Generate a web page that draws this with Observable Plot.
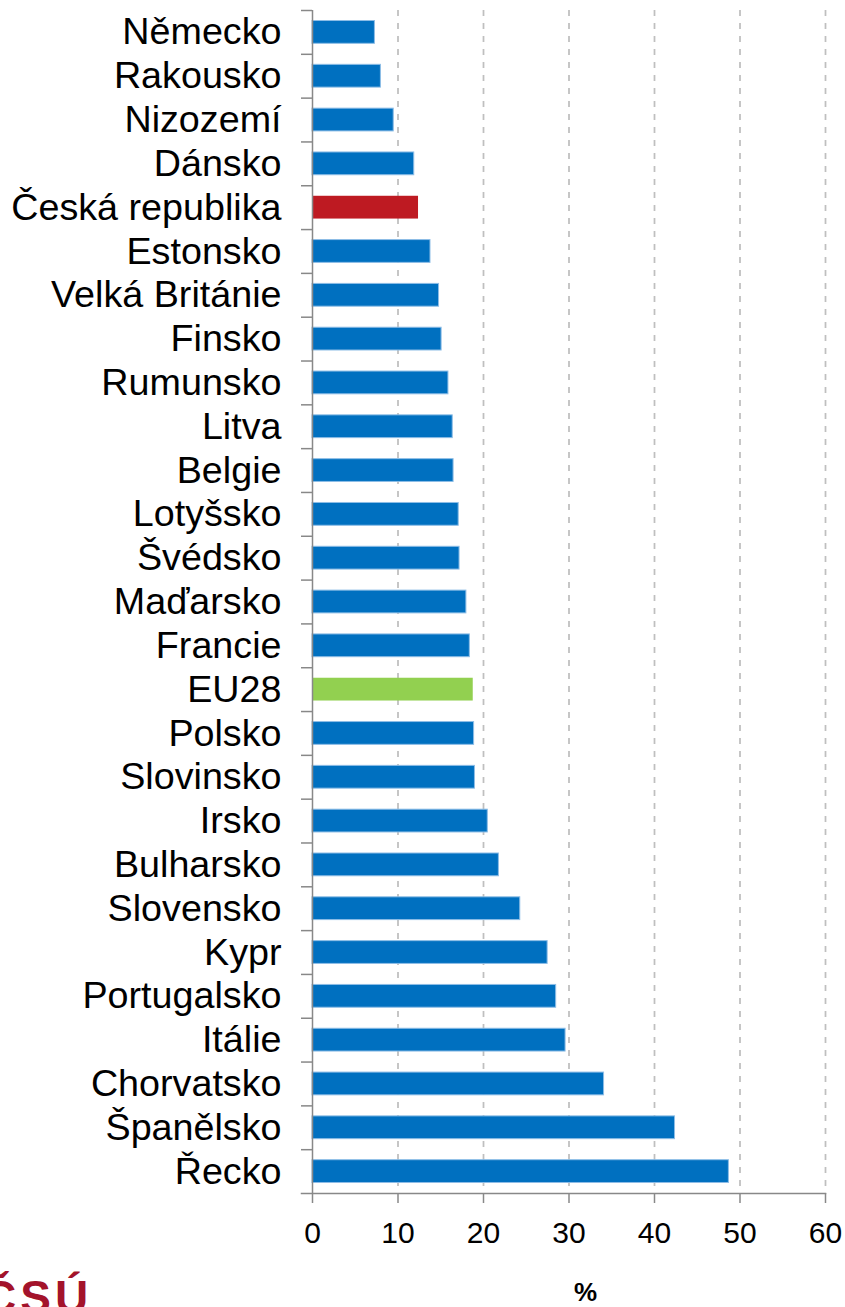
<!DOCTYPE html>
<html>
<head>
<meta charset="utf-8">
<script src="https://cdn.jsdelivr.net/npm/d3@7"></script>
<script src="https://cdn.jsdelivr.net/npm/@observablehq/plot@0.6"></script>
<style>
  html, body { margin: 0; padding: 0; background: #fff; overflow: hidden; }
  #wrap { position: relative; width: 845px; height: 1307px; overflow: hidden; font-family: "Liberation Sans", Arial, sans-serif; }
  #pct { position: absolute; left: 574px; top: 1279px; font-size: 26px; font-weight: bold; color: #000; line-height: 1; }
  #logo { position: absolute; left: -17px; top: 1274px; font-size: 46px; font-weight: bold; color: #A3132B; letter-spacing: 4px; line-height: 1; white-space: nowrap; }
</style>
</head>
<body>
<div id="wrap"></div>
<script>
const countries = [
  "Německo", "Rakousko", "Nizozemí", "Dánsko", "Česká republika", "Estonsko",
  "Velká Británie", "Finsko", "Rumunsko", "Litva", "Belgie", "Lotyšsko",
  "Švédsko", "Maďarsko", "Francie", "EU28", "Polsko", "Slovinsko", "Irsko",
  "Bulharsko", "Slovensko", "Kypr", "Portugalsko", "Itálie", "Chorvatsko",
  "Španělsko", "Řecko"
];
const values = [
  7.3, 8.0, 9.5, 11.9, 12.4, 13.8,
  14.8, 15.1, 15.9, 16.4, 16.5, 17.1,
  17.2, 18.0, 18.4, 18.8, 18.9, 19.0, 20.5,
  21.8, 24.3, 27.5, 28.5, 29.6, 34.1,
  42.4, 48.7
];
const xTicks = [0, 10, 20, 30, 40, 50, 60];
const gridTicks = [10, 20, 30, 40, 50, 60];
const axisUnit = "%";
const logoText = "ČSÚ";

// styles
const blue = "#0070C0";
const highlight = { "Česká republika": "#BE1A22", "EU28": "#92D050" };

const data = countries.map((name, i) => ({ name, value: values[i] }));

const W = 845, H = 1307, mt = 10, mb = 114, ml = 312, mr = 20;
const step = (H - mt - mb) / countries.length;

const chart = Plot.plot({
  width: W,
  height: H,
  marginTop: mt,
  marginBottom: mb,
  marginLeft: ml,
  marginRight: mr,
  style: { fontFamily: "'Liberation Sans', Arial, sans-serif", background: "#fff", color: "#000" },
  x: { domain: [0, 60], ticks: xTicks, label: null },
  y: { domain: countries, paddingInner: 0.48, paddingOuter: 0.24, round: false, label: null },
  color: { type: "identity" },
  marks: [
    Plot.ruleX(gridTicks, { stroke: "#BFBFBF", strokeWidth: 1.75, strokeDasharray: "6,7" }),
    Plot.barX(data, {
      x: "value", y: "name",
      fill: d => highlight[d.name] ?? blue,
      stroke: d => highlight[d.name] ? "none" : "#8DBDE6",
      strokeWidth: 1
    }),
    Plot.ruleX([0], { stroke: "#888", strokeWidth: 1.5 }),
    Plot.frame({ anchor: "bottom", stroke: "#888", strokeWidth: 1.5, insetLeft: -11 }),
    Plot.axisY({ tickSize: 11, tickFormat: () => "", dy: -step / 2, stroke: "#888", strokeWidth: 1.5 }),
    Plot.axisY({ tickSize: 0, tickPadding: 31, fontSize: 37.7, fill: "#000" }),
    Plot.axisX({ ticks: xTicks, tickSize: 10, tickPadding: 18, fontSize: 30, stroke: "#888", strokeWidth: 1.5, fill: "#000" })
  ]
});

const wrap = document.getElementById("wrap");
wrap.appendChild(chart);
const pct = document.createElement("div");
pct.id = "pct"; pct.textContent = axisUnit;
wrap.appendChild(pct);
const logo = document.createElement("div");
logo.id = "logo"; logo.textContent = logoText;
wrap.appendChild(logo);
</script>
</body>
</html>
